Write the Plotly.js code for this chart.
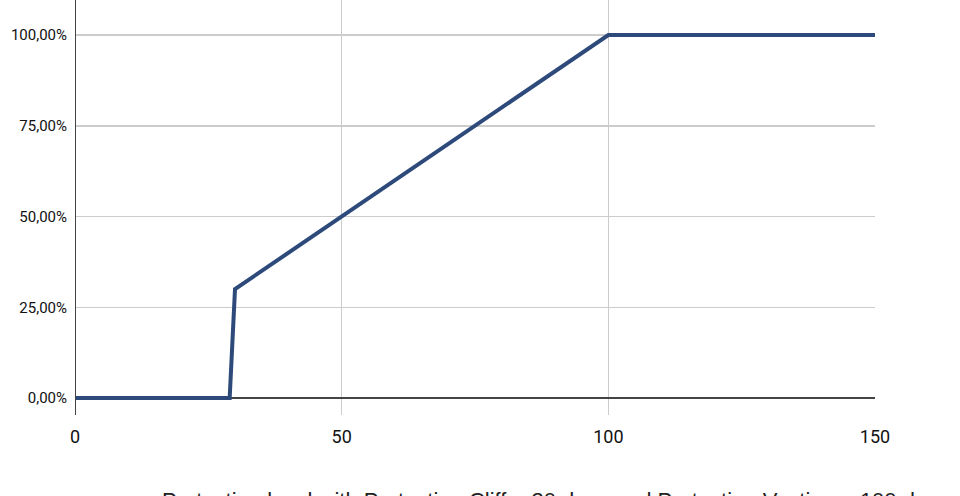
<!DOCTYPE html>
<html>
<head>
<meta charset="utf-8">
<script src="https://cdn.plot.ly/plotly-3.0.1.min.js"></script>
<style>html,body{margin:0;padding:0;background:#fff;}#chart{width:960px;height:496px;}</style>
</head>
<body>
<div id="chart"></div>
<script>
const days = [0, 29, 30, 100, 150];
const protection = [0, 0, 0.30, 1.0, 1.0];
const xTicks = [0, 50, 100, 150];
const yTicks = [0, 0.25, 0.5, 0.75, 1.0];
const caption = "Protection level with Protection Cliff = 30 days and Protection Vesting = 100 days";

Plotly.newPlot('chart', [{
  x: days, y: protection, type: 'scatter', mode: 'lines',
  line: {color: '#2d4a7b', width: 4}, hoverinfo: 'none'
}], {
  width: 960, height: 496,
  margin: {l: 75, r: 85, t: 0, b: 81},
  paper_bgcolor: '#fff', plot_bgcolor: '#fff',
  separators: ',.',
  showlegend: false,
  font: {family: 'Roboto, Arial, sans-serif', color: '#111'},
  xaxis: {
    range: [0, 150], tickvals: xTicks, ticktext: xTicks.map(String),
    showgrid: true, gridcolor: '#cccccc', gridwidth: 1.5,
    zeroline: false, showline: false, ticks: '',
    tickfont: {size: 18, color: '#111'}, ticklabelstandoff: 9
  },
  yaxis: {
    range: [-0.0468, 1.0964], tickvals: yTicks, tickformat: '.2%',
    showgrid: true, gridcolor: '#cccccc', gridwidth: 1.5,
    zeroline: true, zerolinecolor: '#444', zerolinewidth: 1.5,
    showline: false, ticks: '',
    tickfont: {size: 15, color: '#111'}, ticklabelstandoff: 7
  },
  shapes: [{type: 'line', xref: 'x', yref: 'paper', x0: 0, x1: 0, y0: 0, y1: 1,
    line: {color: '#444', width: 2}}],
  annotations: [{
    text: caption, xref: 'paper', yref: 'paper', x: 0.6, y: -0.17,
    xanchor: 'center', yanchor: 'top', showarrow: false,
    font: {family: 'Arial, Liberation Sans, sans-serif', size: 22, color: '#222'}
  }]
}, {staticPlot: true});
</script>
</body>
</html>
